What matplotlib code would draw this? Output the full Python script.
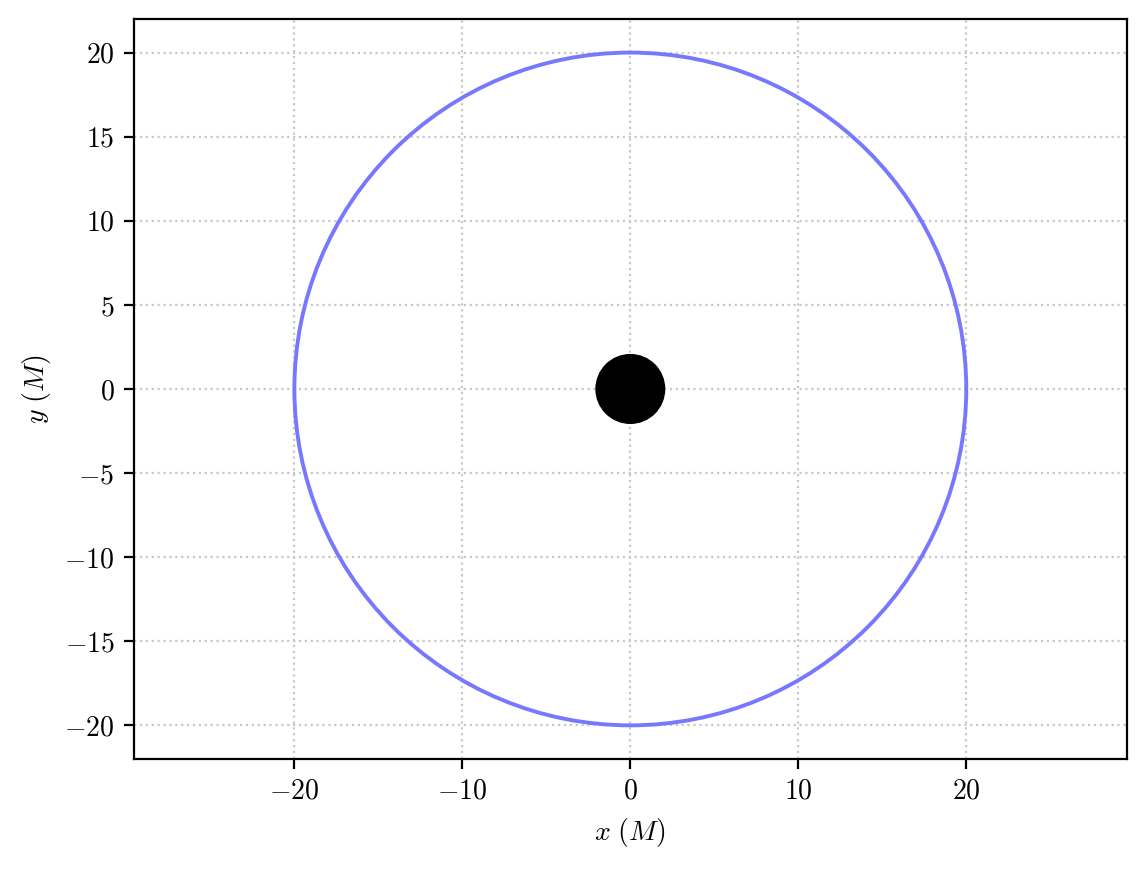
import matplotlib
matplotlib.use("Agg")
import matplotlib.pyplot as plt
from matplotlib.patches import Circle

plt.rcParams['font.family'] = ['cmr10', 'DejaVu Serif']
plt.rcParams['mathtext.fontset'] = 'cm'
plt.rcParams['axes.formatter.use_mathtext'] = True
plt.rcParams['axes.unicode_minus'] = True

# Data
orbit_radius = 20.0
horizon_radius = 2.0
center = (0.0, 0.0)
xticks = [-20, -10, 0, 10, 20]
yticks = [-20, -15, -10, -5, 0, 5, 10, 15, 20]

fig = plt.figure(figsize=(5.725, 4.345), dpi=200)
ax = fig.add_axes([0.117, 0.1266, 0.867, 0.8516])

ax.add_patch(Circle(center, orbit_radius, fill=False, edgecolor='#7878ff', lw=1.4, zorder=3))
ax.add_patch(Circle(center, horizon_radius, facecolor='black', edgecolor='black', zorder=4))

ax.set_xlim(-29.55, 29.55)
ax.set_ylim(-22, 22)
ax.set_xticks(xticks)
ax.set_yticks(yticks)
ax.grid(True, linestyle=':', color='#c8c8c8', lw=0.8)
ax.set_axisbelow(True)
ax.set_xlabel(r'$x\ (M)$')
ax.set_ylabel(r'$y\ (M)$')

fig.savefig('out.png', dpi=200)
